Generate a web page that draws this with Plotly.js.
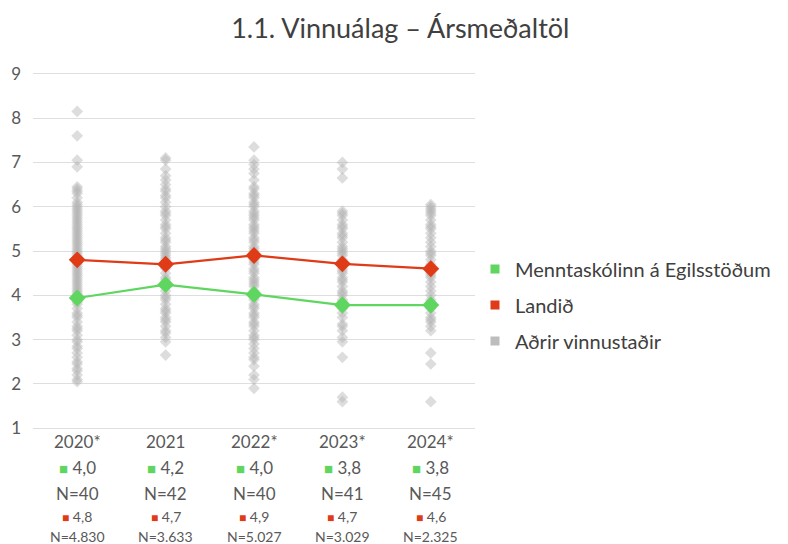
<!DOCTYPE html>
<html><head><meta charset="utf-8">
<script src="https://cdn.plot.ly/plotly-3.0.1.min.js"></script>
<style>html,body{margin:0;padding:0;background:#fff;}#chart{width:788px;height:544px;}</style>
</head><body><div id="chart"></div>
<script>
const years = ['2020*','2021','2022*','2023*','2024*'];
const schoolMeans = [3.94, 4.24, 4.02, 3.78, 3.78];
const nationMeans = [4.80, 4.70, 4.90, 4.71, 4.60];
const schoolLabels = ['4,0','4,2','4,0','3,8','3,8'];
const schoolN = ['N=40','N=42','N=40','N=41','N=45'];
const nationLabels = ['4,8','4,7','4,9','4,7','4,6'];
const nationN = ['N=4.830','N=3.633','N=5.027','N=3.029','N=2.325'];
const yTicks = [1,2,3,4,5,6,7,8,9];
const seriesNames = ['Menntaskólinn á Egilsstöðum','Landið','Aðrir vinnustaðir'];

const others2020 = [8.15,7.6,7.05,6.9,6.45,6.4,6.35,6.3,6.2,6.1,6.05,6.0,5.95,5.9,5.85,5.8,5.75,5.7,5.65,5.6,5.55,5.5,5.45,5.4,5.35,5.3,5.25,5.2,5.15,5.1,5.05,5.0,4.95,4.9,4.85,4.8,4.75,4.7,4.65,4.6,4.55,4.5,4.45,4.4,4.35,4.3,4.25,4.2,4.15,4.1,4.05,4.0,3.9,3.85,3.8,3.7,3.6,3.55,3.5,3.4,3.3,3.25,3.2,3.1,3.0,2.95,2.85,2.8,2.7,2.6,2.5,2.45,2.35,2.3,2.2,2.1,2.05];
const others2021 = [7.1,7.05,6.85,6.7,6.6,6.5,6.4,6.35,6.25,6.2,6.1,6.0,5.9,5.85,5.8,5.7,5.6,5.55,5.5,5.4,5.3,5.25,5.2,5.1,5.05,5.0,4.95,4.9,4.85,4.8,4.75,4.7,4.65,4.6,4.5,4.4,4.35,4.3,4.2,4.1,4.0,3.95,3.9,3.8,3.7,3.65,3.6,3.5,3.45,3.4,3.3,3.2,3.15,3.05,2.95,2.65];
const others2022 = [7.35,7.05,6.95,6.85,6.75,6.6,6.45,6.4,6.3,6.25,6.2,6.1,6.05,6.0,5.9,5.85,5.8,5.75,5.7,5.6,5.55,5.5,5.45,5.4,5.3,5.25,5.2,5.1,5.05,5.0,4.95,4.9,4.85,4.8,4.75,4.7,4.6,4.55,4.5,4.4,4.35,4.3,4.25,4.2,4.1,4.05,4.0,3.95,3.9,3.8,3.75,3.7,3.6,3.55,3.5,3.4,3.35,3.3,3.2,3.1,3.05,3.0,2.9,2.8,2.7,2.6,2.55,2.4,2.2,2.1,1.9];
const others2023 = [7.0,6.85,6.65,5.9,5.85,5.8,5.7,5.6,5.55,5.5,5.4,5.35,5.3,5.2,5.1,5.05,5.0,4.95,4.9,4.8,4.75,4.7,4.6,4.55,4.5,4.4,4.35,4.3,4.2,4.1,4.05,4.0,3.9,3.85,3.7,3.6,3.5,3.35,3.3,3.2,3.05,2.95,2.6,1.7,1.6];
const others2024 = [6.05,6.0,5.95,5.9,5.85,5.8,5.7,5.6,5.55,5.5,5.4,5.3,5.2,5.1,5.0,4.95,4.9,4.8,4.7,4.6,4.5,4.45,4.4,4.3,4.2,4.1,4.0,3.9,3.85,3.7,3.6,3.5,3.45,3.4,3.3,3.2,2.7,2.45,1.6];

const GREEN = '#5fd660', RED = '#df3b17', GRAY = '#bdbdbd';
const FONT = 'Lato, "Noto Sans", sans-serif';

const othersAll = [others2020, others2021, others2022, others2023, others2024];
const gx = [], gy = [];
othersAll.forEach((arr, i) => arr.forEach(v => { gx.push(years[i]); gy.push(v); }));

const traces = [
  {x: gx, y: gy, type: 'scatter', mode: 'markers', showlegend: false, hoverinfo: 'y',
   marker: {symbol: 'diamond', size: 9, color: 'rgba(180,180,180,0.45)'}},
  {x: years, y: nationMeans, type: 'scatter', mode: 'lines+markers', showlegend: false,
   line: {color: RED, width: 2.2}, marker: {symbol: 'diamond', size: 13, color: RED}},
  {x: years, y: schoolMeans, type: 'scatter', mode: 'lines+markers', showlegend: false,
   line: {color: GREEN, width: 2.2}, marker: {symbol: 'diamond', size: 13, color: GREEN}},
  {x: [null], y: [null], type: 'scatter', mode: 'markers', name: seriesNames[0], legendgroup: 'a',
   marker: {symbol: 'square', size: 9, color: GREEN}},
  {x: [null], y: [null], type: 'scatter', mode: 'markers', name: seriesNames[1], legendgroup: 'b',
   marker: {symbol: 'square', size: 9, color: RED}},
  {x: [null], y: [null], type: 'scatter', mode: 'markers', name: seriesNames[2], legendgroup: 'c',
   marker: {symbol: 'square', size: 9, color: GRAY}}
];

// plot area: top 72, height 358 -> bottom 430
const yp = p => (430 - p) / 358;
const annotations = [];
years.forEach((yr, i) => {
  const base = {x: i, xref: 'x', yref: 'paper', yanchor: 'middle', xanchor: 'center', showarrow: false};
  annotations.push(Object.assign({}, base, {y: yp(441), text: yr, font: {family: FONT, size: 17, color: '#595959'}}));
  annotations.push(Object.assign({}, base, {y: yp(467),
    text: '<span style="color:' + GREEN + ';font-size:15px">■</span> ' + schoolLabels[i], font: {family: FONT, size: 17, color: '#595959'}}));
  annotations.push(Object.assign({}, base, {y: yp(493), text: schoolN[i], font: {family: FONT, size: 17, color: '#595959'}}));
  annotations.push(Object.assign({}, base, {y: yp(516),
    text: '<span style="color:' + RED + ';font-size:12px">■</span> ' + nationLabels[i], font: {family: FONT, size: 14, color: '#595959'}}));
  annotations.push(Object.assign({}, base, {y: yp(536), text: nationN[i], font: {family: FONT, size: 14, color: '#595959'}}));
});

const layout = {
  width: 788, height: 544,
  margin: {l: 33, r: 313, t: 72, b: 114, autoexpand: false},
  paper_bgcolor: '#fff', plot_bgcolor: '#fff',
  font: {family: FONT, color: '#595959'},
  title: {text: '1.1. Vinnuálag – Ársmeðaltöl', x: 0.508, xanchor: 'center', y: 0.948, yanchor: 'middle',
    font: {family: FONT, size: 27, color: '#404040'}},
  xaxis: {type: 'category', range: [-0.5, 4.5], showticklabels: false, showgrid: false, zeroline: false, showline: false, fixedrange: true},
  yaxis: {range: [0.96, 9.04], tickvals: yTicks, showgrid: true, gridcolor: '#dedede', gridwidth: 1, zeroline: false,
    showline: false, ticks: '', tickfont: {family: FONT, size: 17, color: '#595959'}, ticklabelstandoff: 11},
  legend: {x: 1.0, xanchor: 'left', y: yp(305), yanchor: 'middle', traceorder: 'grouped', tracegroupgap: 7,
    font: {family: FONT, size: 20, color: '#404040'}, itemwidth: 30},
  annotations: annotations,
  showlegend: true
};

Plotly.newPlot('chart', traces, layout, {displayModeBar: false, staticPlot: true});
</script></body></html>
